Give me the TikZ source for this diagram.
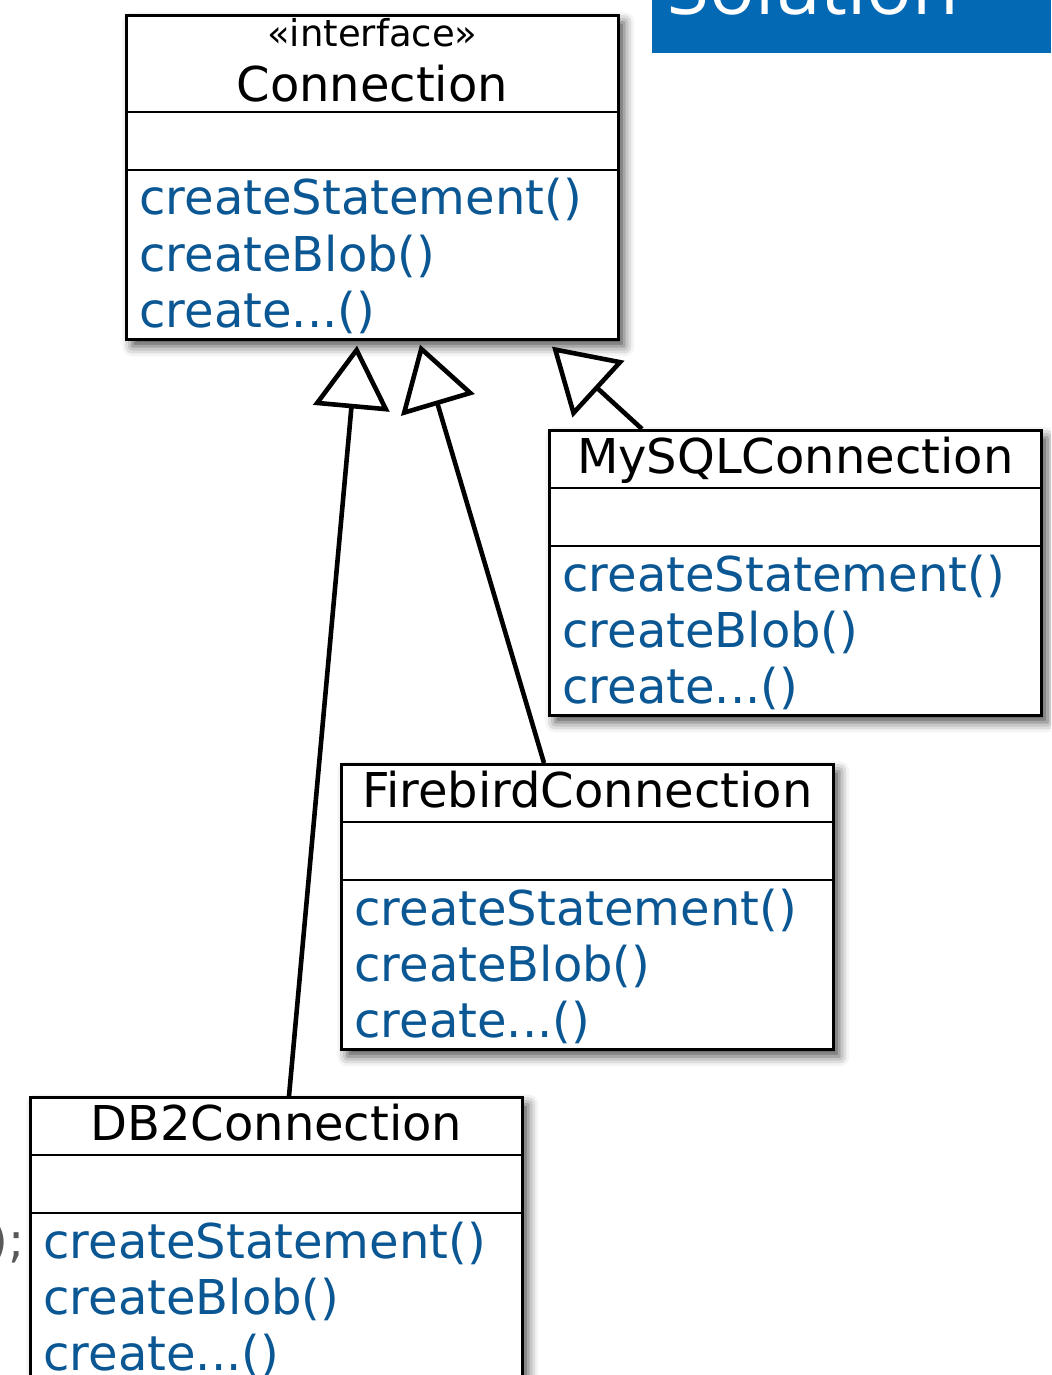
\documentclass[tikz,border=0pt]{standalone}
\usepackage{fontspec}
\setmainfont{DejaVu Sans}
\newfontfamily\slidefont{Open Sans}
\usetikzlibrary{arrows.meta,shadows.blur}
\definecolor{umlblue}{RGB}{10,87,148}
\definecolor{slideblue}{RGB}{3,105,180}
\definecolor{codegray}{RGB}{88,89,91}
\tikzset{
  classbox/.style={draw, line width=1.3pt, fill=white, anchor=north west,
    minimum width=246pt, inner sep=0pt,
    blur shadow={shadow xshift=3pt, shadow yshift=-3.5pt, shadow blur radius=5pt, shadow opacity=70}},
  classline/.style={line width=1.3pt},
  classname/.style={anchor=base, inner sep=0pt, font=\fontsize{24}{28}\selectfont},
  method/.style={anchor=base west, inner sep=0pt, text=umlblue, font=\fontsize{24}{28}\selectfont},
  inherit/.style={line width=2.3pt, -{Triangle[open, length=31.5pt, width=38pt]}}
}
% #1 id, #2 top left, #3 title, #4 height of title part, #5 title baseline
\newcommand{\umlclass}[5]{
  \node[classbox, minimum height=#4+113pt] (#1) at (#2) {};
  \draw[classline] ([yshift=-#4]#1.north west) -- ([yshift=-#4]#1.north east);
  \draw[classline] ([yshift=-#4-29pt]#1.north west) -- ([yshift=-#4-29pt]#1.north east);
  \node[classname] (#1-title) at ([yshift=-#5]#1.north) {#3};
  \node[method] (#1-stmt) at ([xshift=7pt, yshift=-#4-51.5pt]#1.north west) {createStatement()};
  \node[method] (#1-blob) at ([xshift=7pt, yshift=-#4-79.5pt]#1.north west) {createBlob()};
  \node[method] (#1-other) at ([xshift=7pt, yshift=-#4-107.5pt]#1.north west) {create...()};
}

\begin{document}
\begin{tikzpicture}[x=0.5pt, y=-0.5pt]
\useasboundingbox (0,0) rectangle (1051,1375);
\clip (0,0) rectangle (1051,1375);

% slide title, cut off at the top
\fill[slideblue] (652,0) rectangle (1051,53);
\node[anchor=base west, inner sep=0pt, text=white, font=\slidefont\fontsize{38}{40}\selectfont] (soltitle) at (667,15) {Solution};
\node[anchor=base east, inner sep=0pt, text=codegray, font=\fontsize{24}{28}\selectfont] (codetail) at (25,1257) {);};

\umlclass{conn}{125,14}{Connection}{49pt}{44pt}
\node[classname, font=\fontsize{18.5}{22}\selectfont] (conn-stereo) at ([yshift=-16.5pt]conn.north) {«interface»};
\umlclass{mysql}{548,429}{MySQLConnection}{29.5pt}{22pt}
\umlclass{fb}{340,763}{FirebirdConnection}{29.5pt}{22pt}
\umlclass{db2}{29,1096}{DB2Connection}{29.5pt}{22pt}

\draw[inherit] ([xshift=130pt]db2.north west) -- ([xshift=116pt, yshift=-2.5pt]conn.south west);
\draw[inherit] ([xshift=102pt]fb.north west) -- ([xshift=147.5pt, yshift=-2pt]conn.south west);
\draw[inherit] ([xshift=47pt]mysql.north west) -- ([xshift=213.5pt, yshift=-3pt]conn.south west);
\end{tikzpicture}
\end{document}
